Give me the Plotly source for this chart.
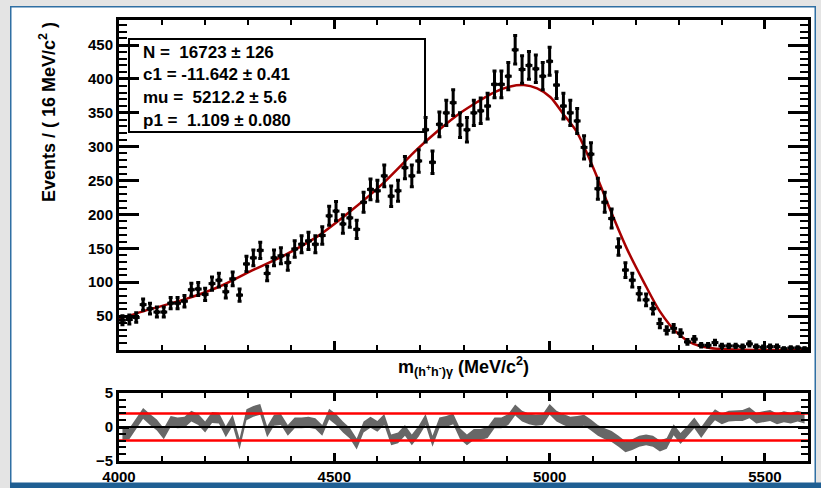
import numpy as np
import plotly.graph_objects as go

W, H = 821, 488

# ---------------- data ----------------
bin_lo = 4000.0
bin_width = 16.0
x_range = [4000, 5600]

counts = [44, 45, 48, 67, 61, 56, 56, 69, 69, 72,
          89, 90, 82, 98, 103, 86, 105, 81, 127, 136,
          147, 113, 136, 139, 129, 149, 156, 161, 156, 169,
          198, 205, 186, 195, 178, 218, 237, 235, 257, 227,
          235, 269, 257, 279, 325, 277, 333, 350, 365, 332,
          325, 350, 353, 360, 392, 392, 404, 443, 414, 420,
          415, 404, 426, 391, 360, 350, 338, 299, 289, 238,
          218, 194, 152, 118, 103, 83, 74, 61, 39, 29,
          32, 25, 12, 16, 7, 7, 11, 6, 6, 6,
          5, 9, 5, 4, 5, 5, 2, 3, 3, 2]

pulls = [-1.1, -1.0, 0.5, 2.0, 1.1, 0.3, -1.0, 0.8, 0.6, 0.7,
         1.6, 1.1, 0.0, 1.4, 1.3, -0.7, 1.0, -2.5, 1.8, 2.3,
         2.6, -0.7, 1.0, 1.1, -0.5, 0.6, 0.6, 0.7, 0.5, -0.5,
         1.9, 1.1, 0.0, -0.9, -2.5, 0.0, 0.7, 0.1, 1.1, -1.9,
         -1.6, -0.5, -1.9, -0.6, 1.1, -2.1, 0.6, 0.8, 1.2, -1.0,
         -1.9, -1.1, -1.1, -0.8, 0.6, 0.6, 1.1, 2.5, 1.6, 1.2,
         1.0, 1.1, 2.6, 1.6, 1.1, 0.7, 0.8, 1.0, 0.3, -0.5,
         -1.0, -1.4, -2.1, -2.9, -2.6, -2.1, -1.9, -2.1, -2.8, -2.4,
         -0.4, -1.7, -0.6, 0.6, -0.8, 0.6, 1.8, 1.2, 1.6, 1.7,
         1.7, 2.1, 1.3, 1.5, 1.7, 1.2, 1.5, 1.3, 1.6, 1.3]
pull_err = 0.8

fit_mass = [4000, 4077, 4154, 4231, 4308, 4385, 4462, 4538, 4615, 4692,
            4738, 4793, 4832, 4870, 4909, 4940, 4971, 5002, 5032, 5063,
            5102, 5140, 5179, 5218, 5256, 5295, 5334, 5372, 5411, 5450,
            5500, 5600]
fit_vals = [46, 61, 75, 93, 117, 140, 168, 205, 247, 296,
            322, 350, 366, 380, 389, 391, 386, 373, 348, 322,
            268, 208, 150, 101, 57, 26, 9, 3, 1, 0.3,
            0, 0]

stats_lines = ["N =\u00a0 16723 \u00b1 126",
               "c1 = -11.642 \u00b1 0.41",
               "mu =\u00a0 5212.2 \u00b1 5.6",
               "p1 =\u00a0 1.109 \u00b1 0.080"]

y_ticks_main = [50, 100, 150, 200, 250, 300, 350, 400, 450]
x_ticks = [4000, 4500, 5000, 5500]
pull_ticks = [-5, 0, 5]
pull_ticktext = ["\u22125", "0", "5"]
pull_ref = [(0, "black"), (-2, "red"), (2, "red")]

x_title = "m<sub>(h<sup>+</sup>h<sup>-</sup>)\u03b3</sub> (MeV/c<sup>2</sup>)"
y_title = "Events / ( 16 MeV/c<sup>2</sup> )"

# ---------------- helpers ----------------
def px(x):
    return x / W

def py(y):
    return 1 - y / H

counts = np.array(counts, dtype=float)
pulls = np.array(pulls, dtype=float)
centers = bin_lo + bin_width * (np.arange(len(counts)) + 0.5)
errs = np.sqrt(counts)

FONT = "Liberation Sans, Arial, Helvetica, sans-serif"

fig = go.Figure()

# fit curve
fig.add_trace(go.Scatter(
    x=fit_mass, y=fit_vals, mode="lines",
    line=dict(color="#a80000", width=2.5, shape="spline", smoothing=0.8),
    xaxis="x", yaxis="y", hoverinfo="skip"))

# data points
fig.add_trace(go.Scatter(
    x=centers, y=counts, mode="markers",
    marker=dict(size=4, color="black", symbol="square"),
    error_y=dict(type="data", array=errs, color="black", thickness=3, width=2),
    error_x=dict(type="constant", value=bin_width / 2, color="black", thickness=3, width=0),
    xaxis="x", yaxis="y", hoverinfo="skip"))

# pull band
band_x = np.concatenate([centers, centers[::-1]])
band_y = np.concatenate([pulls + pull_err, (pulls - pull_err)[::-1]])
fig.add_trace(go.Scatter(
    x=band_x, y=band_y, mode="lines", fill="toself",
    fillcolor="#676767", line=dict(width=0, color="#676767"),
    xaxis="x2", yaxis="y2", hoverinfo="skip"))

for v, c in pull_ref:
    fig.add_trace(go.Scatter(
        x=x_range, y=[v, v], mode="lines",
        line=dict(color=c, width=2.5 if c == "red" else 2),
        xaxis="x2", yaxis="y2", hoverinfo="skip"))

axis_common = dict(showline=True, linewidth=3, linecolor="black", mirror="ticks",
                   ticks="inside", tickcolor="black", showgrid=False, zeroline=False,
                   automargin=False)

tickfont = dict(family=FONT, size=15, color="black", weight="bold")

fig.update_layout(
    width=W, height=H,
    margin=dict(l=0, r=0, t=0, b=0, pad=0, autoexpand=False),
    paper_bgcolor="white", plot_bgcolor="white",
    showlegend=False, hovermode=False,
    font=dict(family=FONT, color="black"),
    xaxis=dict(domain=[px(119), px(808)], range=x_range, anchor="y",
               tickmode="array", tickvals=x_ticks, showticklabels=False,
               ticklen=9, tickwidth=2.5,
               minor=dict(ticks="inside", tickmode="linear", tick0=4000, dtick=100,
                          ticklen=5, tickwidth=2, tickcolor="black", showgrid=False),
               **axis_common),
    yaxis=dict(domain=[py(350), py(20)], range=[0, 487], anchor="x",
               tickmode="array", tickvals=y_ticks_main,
               ticklen=20, tickwidth=2.5, tickfont=tickfont,
               minor=dict(ticks="inside", tickmode="linear", tick0=0, dtick=10,
                          ticklen=8, tickwidth=2, tickcolor="black", showgrid=False),
               **axis_common),
    xaxis2=dict(domain=[px(119), px(808)], range=x_range, anchor="y2",
                tickmode="array", tickvals=x_ticks, ticklen=8, tickwidth=2.5,
                tickfont=tickfont,
                minor=dict(ticks="inside", tickmode="linear", tick0=4000, dtick=100,
                           ticklen=5, tickwidth=2, tickcolor="black", showgrid=False),
                **axis_common),
    yaxis2=dict(domain=[py(461), py(393)], range=[-5, 5], anchor="x2",
                tickmode="array", tickvals=pull_ticks, ticktext=pull_ticktext,
                ticklen=10, tickwidth=2.5, tickfont=tickfont,
                minor=dict(ticks="inside", tickmode="linear", tick0=-5, dtick=1,
                           ticklen=7, tickwidth=2, tickcolor="black", showgrid=False),
                **axis_common),
)

shapes = [
    # outer frame decoration
    dict(type="rect", xref="paper", yref="paper", x0=0, x1=px(10), y0=0, y1=1,
         fillcolor="#e4e4e4", line=dict(width=0), layer="below"),
    dict(type="rect", xref="paper", yref="paper", x0=0, x1=1, y0=py(6), y1=1,
         fillcolor="#e4e4e4", line=dict(width=0), layer="below"),
    dict(type="rect", xref="paper", yref="paper", x0=px(816), x1=1, y0=0, y1=1,
         fillcolor="#e4e4e4", line=dict(width=0), layer="below"),
    dict(type="rect", xref="paper", yref="paper", x0=px(10), x1=px(11.5), y0=py(483), y1=py(6),
         fillcolor="#2f6fa3", line=dict(width=0), layer="below"),
    dict(type="rect", xref="paper", yref="paper", x0=px(10), x1=px(816), y0=py(7.5), y1=py(6),
         fillcolor="#2f6fa3", line=dict(width=0), layer="below"),
    dict(type="rect", xref="paper", yref="paper", x0=px(814.5), x1=px(816), y0=py(483), y1=py(6),
         fillcolor="#2f6fa3", line=dict(width=0), layer="below"),
    dict(type="rect", xref="paper", yref="paper", x0=px(10), x1=1, y0=0, y1=py(482.5),
         fillcolor="#1f5f93", line=dict(width=0), layer="below"),
    # stats box
    dict(type="rect", xref="paper", yref="paper", x0=px(129), x1=px(425), y0=py(132), y1=py(39),
         line=dict(color="black", width=2), fillcolor="rgba(0,0,0,0)", layer="below"),
]
fig.update_layout(shapes=shapes)

annotations = []
for k, line in enumerate(stats_lines):
    annotations.append(dict(
        xref="paper", yref="paper", x=px(141), y=py(52.5 + 22.5 * k),
        xanchor="left", yanchor="middle", showarrow=False, text=line,
        font=dict(family=FONT, size=17, color="black", weight="bold")))
annotations.append(dict(
    xref="paper", yref="paper", x=px(463), y=py(366), xanchor="center", yanchor="middle",
    showarrow=False, text=x_title,
    font=dict(family=FONT, size=18, color="black", weight="bold")))
annotations.append(dict(
    xref="paper", yref="paper", x=px(47), y=py(112), xanchor="center", yanchor="middle",
    showarrow=False, text=y_title, textangle=-90,
    font=dict(family=FONT, size=18, color="black", weight="bold")))
fig.update_layout(annotations=annotations)

fig.write_html("out.html", config={"displayModeBar": False})
